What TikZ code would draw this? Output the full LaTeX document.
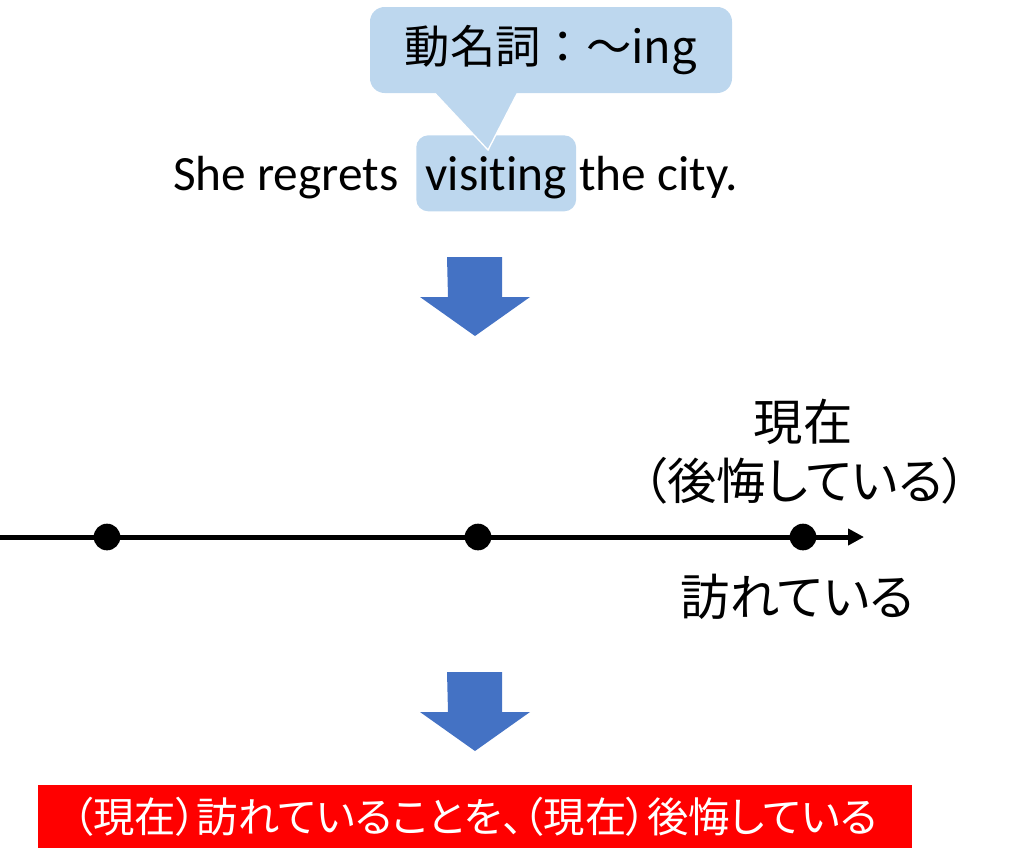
\documentclass[tikz,border=0pt]{standalone}
\usepackage{fontspec}
\setmainfont{Carlito}[Ligatures = NoCommon]
\newfontfamily\jpfont{Noto Sans CJK JP}
\newfontfamily\jppfont[RawFeature=+palt]{Noto Sans CJK JP}
\usetikzlibrary{arrows.meta}
\definecolor{calloutblue}{HTML}{BDD7EE}
\definecolor{arrowblue}{HTML}{4472C4}

\begin{document}
\begin{tikzpicture}[x = 0.75pt, y = -0.75pt]
  \useasboundingbox (0, 0) rectangle (1017, 865);
  % draw sentence with highlighted gerund
  \node[anchor = base west, fill = calloutblue, rounded corners = 9pt,
  inner xsep = 7pt, inner ysep = 0pt, text height = 41pt, text depth = 16pt,
  font = \fontsize{37}{40}\selectfont] (visit) at (416, 190) {visiting};
  \node[anchor = base east, inner sep = 0pt, font = \fontsize{37}{40}\selectfont]
  (she) at ([xshift = -13pt] visit.base west) {She regrets};
  \node[anchor = base west, inner sep = 0pt, font = \fontsize{37}{40}\selectfont]
  (city) at ([xshift = 2pt] visit.base east) {the city.};
  % draw callout
  \coordinate (tip) at (488, 150);
  \filldraw[fill = calloutblue, draw = white, line width = 1pt]
  (430, 88) -- (tip) -- (520, 88) -- cycle;
  \node[fill = calloutblue, rounded corners = 11pt, minimum width = 271.5pt,
  minimum height = 64.5pt, font = \jpfont\fontsize{34}{38}\selectfont]
  (callout) at (551, 50) {動名詞：～ing};
  % draw block arrows
  \foreach \y in {257, 672}{
    \fill[arrowblue] (447, \y) -- ++(55, 0) -- ++(0, 40) -- ++(28, 0)
    -- ++(-55, 39) -- ++(-55, -39) -- ++(28, 0) -- cycle;
  }
  % draw time line
  \coordinate (start) at (0, 537);
  \coordinate (end) at (864, 537);
  \draw[line width = 3.75pt, -{Triangle[length = 12pt, width = 12pt]}]
  (start) -- (end);
  \foreach \n/\x in {1/107, 2/478, 3/803}{
    \node[circle, fill, inner sep = 0pt, minimum size = 20pt] (dot\n)
    at (\x, 537) {};
  }
  \node[font = \jppfont\fontsize{37}{40}\selectfont] (now) at (803, 422) {現在};
  \node[font = \jppfont\fontsize{37}{40}\selectfont] (regret) at (805, 481)
  {（後悔している）};
  \node[font = \jppfont\fontsize{37}{40}\selectfont] (visited) at (797, 597)
  {訪れている};
  % draw result
  \node[fill = red, text = white, minimum width = 655.5pt, minimum height = 47.25pt,
  font = \jppfont\fontsize{31}{34}\selectfont] (result) at (475, 816.5)
  {（現在）訪れていることを、（現在）後悔している};
\end{tikzpicture}
\end{document}
